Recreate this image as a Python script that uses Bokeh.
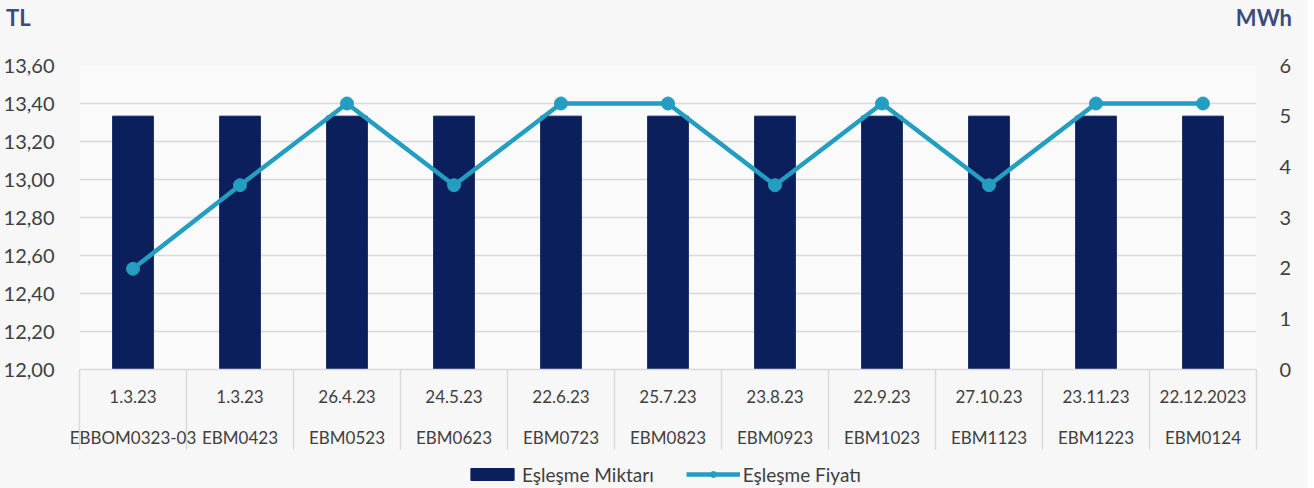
from bokeh.plotting import figure
from bokeh.layouts import column
from bokeh.models import (Range1d, LinearAxis, FixedTicker, CustomJSTickFormatter, Grid,
                          Legend, LegendItem, Div, ColumnDataSource)
from bokeh.embed import file_html
from bokeh.resources import INLINE

dates = ["1.3.23", "1.3.23", "26.4.23", "24.5.23", "22.6.23", "25.7.23", "23.8.23",
         "22.9.23", "27.10.23", "23.11.23", "22.12.2023"]
contracts = ["EBBOM0323-03", "EBM0423", "EBM0523", "EBM0623", "EBM0723", "EBM0823",
             "EBM0923", "EBM1023", "EBM1123", "EBM1223", "EBM0124"]
quantity_mwh = [5, 5, 5, 5, 5, 5, 5, 5, 5, 5, 5]
price_tl = [12.53, 12.97, 13.40, 12.97, 13.40, 13.40, 12.97, 13.40, 12.97, 13.40, 13.40]
left_ticks = [12.0, 12.2, 12.4, 12.6, 12.8, 13.0, 13.2, 13.4, 13.6]
right_ticks = [0, 1, 2, 3, 4, 5, 6]
left_title = "TL"
right_title = "MWh"
series_names = ["Eşleşme Miktarı", "Eşleşme Fiyatı"]

NAVY = "#0B1F5C"
TEAL = "#239DC0"
GRID = "#d9d9d9"
TXT = "#404040"
BG = "#f7f7f7"
FONT = "Lato"

n = len(contracts)
xs = [i + 0.5 for i in range(n)]
src = ColumnDataSource(dict(x=xs, q=quantity_mwh, p=price_tl))

header = Div(text=(f"<div style='display:flex;justify-content:space-between;width:1292px;"
                   f"padding-left:6px;box-sizing:border-box;"
                   f"height:36px;line-height:36px;font-family:{FONT};font-weight:bold;"
                   f"font-size:22px;color:#3D4B7C'><span>{left_title}</span>"
                   f"<span>{right_title}</span></div>"),
             width=1298, height=36, styles={"background-color": BG, "margin": "0"})

p = figure(frame_width=1177, frame_height=304,
           x_range=Range1d(0, n), y_range=Range1d(left_ticks[0], left_ticks[-1]),
           x_axis_type=None, y_axis_type=None, output_backend="svg", toolbar_location=None,
           min_border_left=70, min_border_right=51, min_border_top=29, min_border_bottom=91)
p.extra_y_ranges = {"mwh": Range1d(right_ticks[0], right_ticks[-1])}
p.outline_line_color = None
p.background_fill_color = "#fafafa"
p.border_fill_color = BG

p.add_layout(Grid(dimension=1, ticker=FixedTicker(ticks=left_ticks), grid_line_color=GRID,
                  grid_line_width=1.5))

left = LinearAxis(ticker=FixedTicker(ticks=left_ticks),
                  formatter=CustomJSTickFormatter(code="return tick.toFixed(2).replace('.', ',')"),
                  axis_line_color=None, major_tick_line_color=None, minor_tick_line_color=None,
                  major_label_text_font=FONT, major_label_text_font_size="20px",
                  major_label_text_color=TXT, major_label_standoff=19)
p.add_layout(left, "left")

right = LinearAxis(y_range_name="mwh", ticker=FixedTicker(ticks=right_ticks),
                   axis_line_color=None, major_tick_line_color=None, minor_tick_line_color=None,
                   major_label_text_font=FONT, major_label_text_font_size="20px",
                   major_label_text_color=TXT, major_label_standoff=17)
p.add_layout(right, "right")

ax_dates = LinearAxis(ticker=FixedTicker(ticks=xs, minor_ticks=list(range(n + 1))),
                      formatter=CustomJSTickFormatter(args=dict(labels=dates),
                                                      code="return labels[Math.floor(tick)]"),
                      axis_line_color=GRID, axis_line_width=1.5,
                      major_tick_out=0, major_tick_in=0, major_tick_line_color=None,
                      minor_tick_out=80, minor_tick_in=0, minor_tick_line_color=GRID,
                      minor_tick_line_width=1.5,
                      major_label_text_font=FONT, major_label_text_font_size="17px",
                      major_label_text_color=TXT, major_label_standoff=-60)
p.add_layout(ax_dates, "below")

ax_con = LinearAxis(ticker=FixedTicker(ticks=xs, minor_ticks=[]),
                    formatter=CustomJSTickFormatter(args=dict(labels=contracts),
                                                    code="return labels[Math.floor(tick)]"),
                    axis_line_color=None, major_tick_line_color=None, minor_tick_line_color=None,
                    major_label_text_font=FONT, major_label_text_font_size="17px",
                    major_label_text_color=TXT, major_label_standoff=15)
p.add_layout(ax_con, "below")

bars = p.vbar(x="x", top="q", bottom=0, width=0.38, source=src, y_range_name="mwh",
              fill_color=NAVY, line_color=NAVY)
line = p.line(x="x", y="p", source=src, line_color=TEAL, line_width=4.5)
pts = p.scatter(x="x", y="p", source=src, size=13, fill_color=TEAL, line_color=TEAL)

# legend strip below the chart: same series and styles as hidden renderers,
# so that only the legend swatches show
lp = figure(width=1298, height=28, x_range=Range1d(-2, -1), y_range=Range1d(0, 1),
            x_axis_type=None, y_axis_type=None, output_backend="svg", toolbar_location=None,
            min_border_left=0, min_border_right=0, min_border_top=0, min_border_bottom=0)
lp.outline_line_color = None
lp.background_fill_color = BG
lp.border_fill_color = BG
lb = lp.vbar(x="x", top="q", bottom=0, width=0.38, source=src, fill_color=NAVY, line_color=NAVY)
ll = lp.line(x="x", y="p", source=src, line_color=TEAL, line_width=4.5)
ls = lp.scatter(x="x", y="p", source=src, size=9, fill_color=TEAL, line_color=TEAL)
for r in (lb, ll, ls):
    r.visible = False
legend = Legend(items=[LegendItem(label=series_names[0], renderers=[lb]),
                       LegendItem(label=series_names[1], renderers=[ll, ls])],
                orientation="horizontal", location="center", glyph_width=54, glyph_height=15,
                label_text_font=FONT, label_text_font_size="19px", label_text_color=TXT,
                spacing=32, label_standoff=3, padding=0, margin=0, click_policy="none",
                background_fill_alpha=0, border_line_color=None)
lp.add_layout(legend)

layout = column(header, p, lp, spacing=0, styles={"background-color": BG})
open("out.html", "w").write(file_html(layout, INLINE))
